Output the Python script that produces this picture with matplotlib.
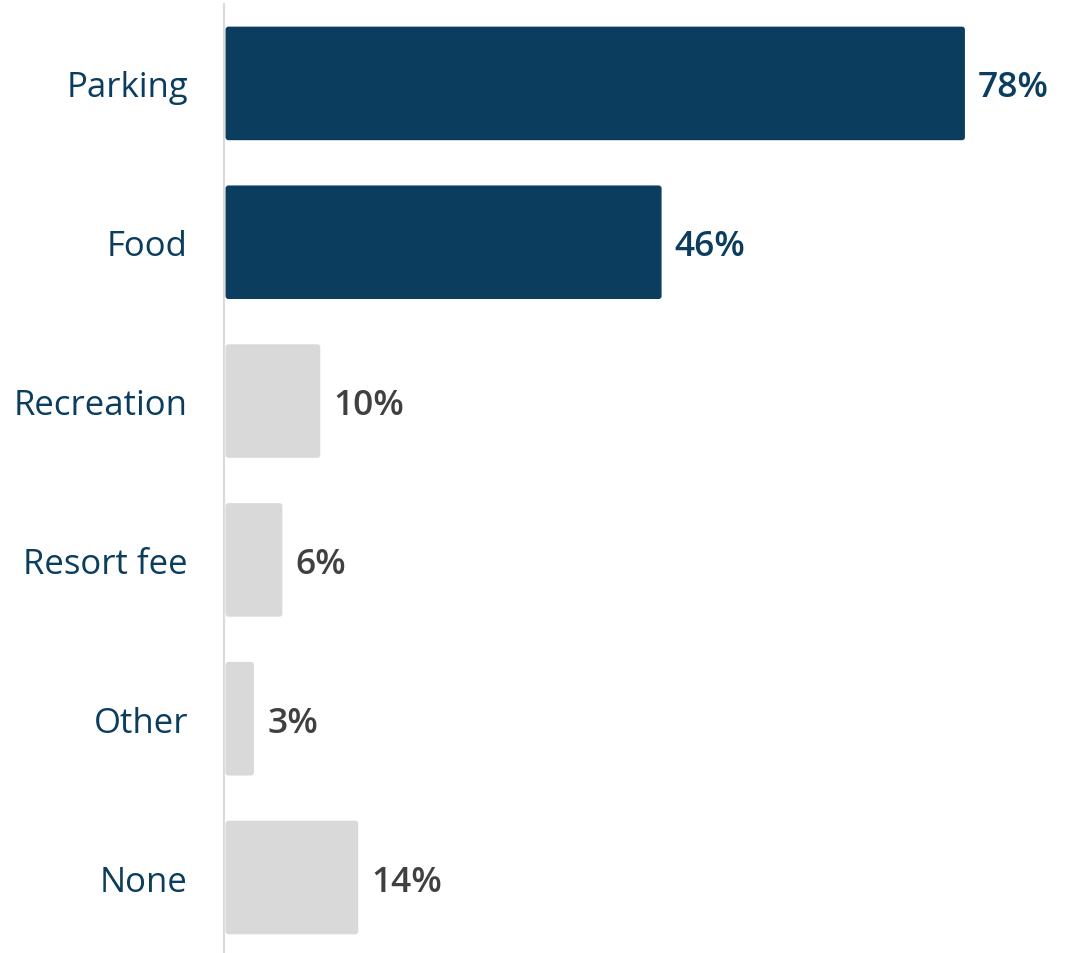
import matplotlib
matplotlib.use("Agg")
import matplotlib.pyplot as plt
from matplotlib.patches import FancyBboxPatch

categories = ["Parking", "Food", "Recreation", "Resort fee", "Other", "None"]
values = [78, 46, 10, 6, 3, 14]
highlight = [True, True, False, False, False, False]

NAVY = "#0b3d5f"
GREY_BAR = "#d9d9d9"
GREY_TEXT = "#404040"
AXIS = "#dcdcdc"

plt.rcParams["font.family"] = ["Open Sans", "DejaVu Sans"]

W, H, DPI = 1071, 954, 100
fig = plt.figure(figsize=(W / DPI, H / DPI), dpi=DPI)
ax_left, ax_right = 224, 1071
ax_top, ax_bottom = 5, 954
ax = fig.add_axes([ax_left / W, 1 - ax_bottom / H,
                   (ax_right - ax_left) / W, (ax_bottom - ax_top) / H])

px_per_x = 9.48
gap_px = 1.5
xmin = -gap_px / px_per_x
ax.set_xlim(xmin, xmin + (ax_right - ax_left) / px_per_x)
ax.set_ylim(5.475, -0.5)
px_per_y = (ax_bottom - ax_top) / (5.475 + 0.5)

ypos = list(range(len(categories)))
colors = [NAVY if h else GREY_BAR for h in highlight]
bars = ax.barh(ypos, values, height=0.715, color=colors)

# swap plain rectangles for ones with slightly rounded corners
radius_px = 3.0
for b, c in zip(bars, colors):
    x0, y0 = b.get_x(), b.get_y()
    w, h = b.get_width(), b.get_height()
    b.set_visible(False)
    ax.add_patch(FancyBboxPatch(
        (x0, y0), w, h,
        boxstyle=f"round,pad=0,rounding_size={radius_px / px_per_x}",
        mutation_aspect=px_per_x / px_per_y,
        facecolor=c, edgecolor="none", zorder=2))

for y, v, hl in zip(ypos, values, highlight):
    ax.annotate(f"{v}%", xy=(v, y), xytext=(9.5, 0), textcoords="offset points",
                ha="left", va="center_baseline", fontsize=25.5,
                color=NAVY if hl else GREY_TEXT, fontweight="semibold")

ax.set_yticks(ypos)
ax.set_yticklabels(categories, fontsize=25, color=NAVY)
ax.tick_params(axis="y", length=0, pad=26)
ax.set_xticks([])
for s in ["top", "right", "bottom"]:
    ax.spines[s].set_visible(False)
ax.spines["left"].set_color(AXIS)
ax.spines["left"].set_linewidth(1.6)
ax.set_facecolor("none")

fig.savefig("out.png", dpi=DPI, facecolor="white")
